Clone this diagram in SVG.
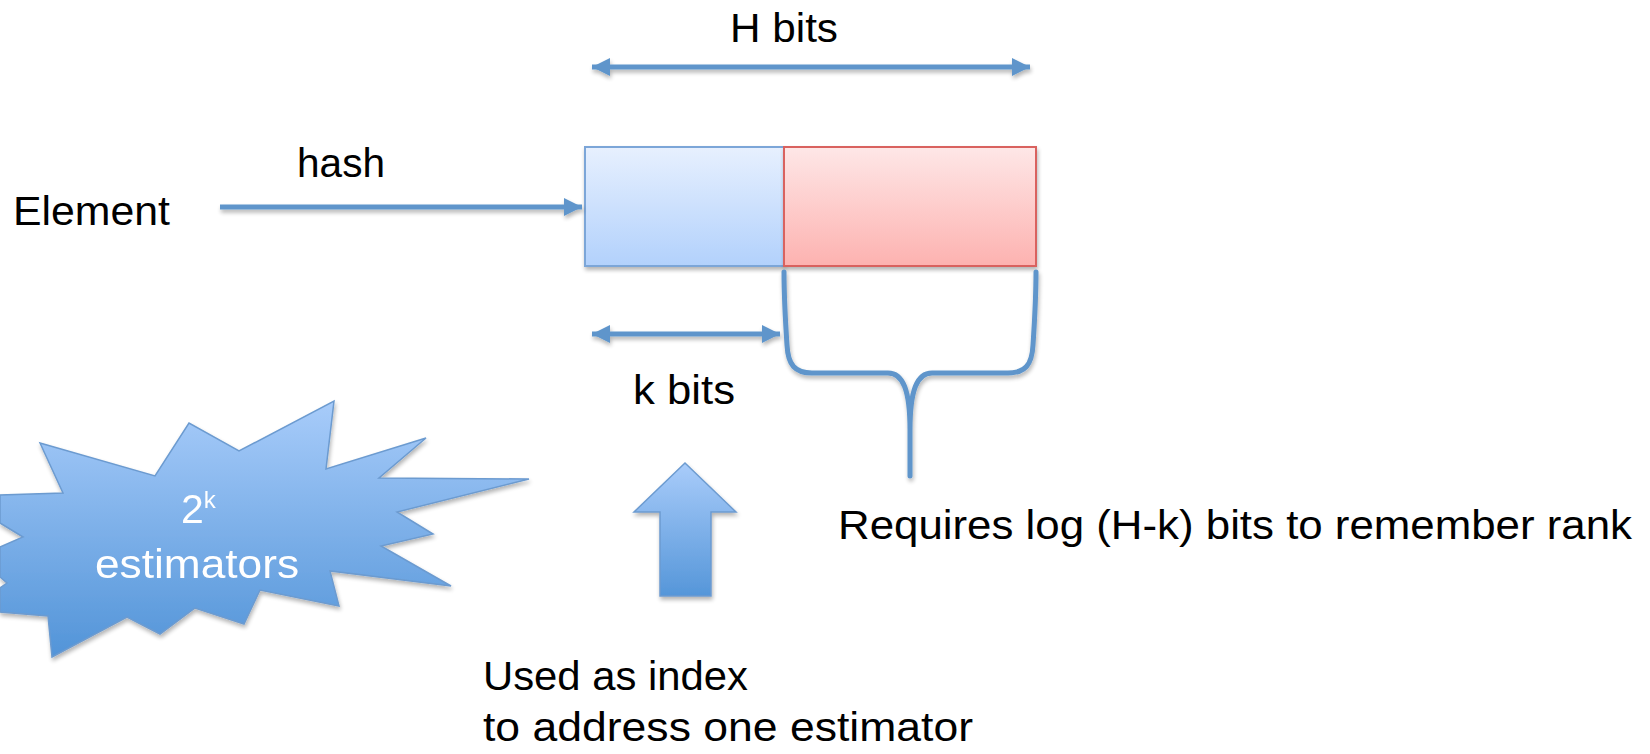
<svg xmlns="http://www.w3.org/2000/svg" width="1650" height="754" viewBox="0 0 1650 754">
<style>
.t{font-family:"Liberation Sans",Arial,sans-serif;font-size:41px;fill:#000}
.w{font-family:"Liberation Sans",Arial,sans-serif;font-size:41px;fill:#fff}
.ln{stroke:#5E95CB;stroke-width:5;fill:none}
.br{stroke:#5E95CB;stroke-width:5;fill:none;stroke-linecap:round}
</style>
<defs>
<linearGradient id="gBlue" x1="0" y1="0" x2="0" y2="1"><stop offset="0" stop-color="#E7F0FE"/><stop offset="1" stop-color="#B2D1FC"/></linearGradient>
<linearGradient id="gRed" x1="0" y1="0" x2="0" y2="1"><stop offset="0" stop-color="#FEE7E7"/><stop offset="1" stop-color="#FDB2B0"/></linearGradient>
<linearGradient id="gStar" x1="0" y1="0" x2="0" y2="1"><stop offset="0" stop-color="#A8CCFA"/><stop offset="1" stop-color="#5294D8"/></linearGradient>
<linearGradient id="gArrow" x1="0" y1="0" x2="0" y2="1"><stop offset="0" stop-color="#A9CCFA"/><stop offset="1" stop-color="#5596D9"/></linearGradient>
<marker id="ah" markerUnits="userSpaceOnUse" markerWidth="22" markerHeight="22" viewBox="0 0 22 22" refX="18" refY="11" orient="auto-start-reverse"><path d="M0,2 L18,11 L0,20 Z" fill="#5E95CB"/></marker>
<filter id="sh" x="-10%" y="-10%" width="130%" height="130%"><feGaussianBlur in="SourceAlpha" stdDeviation="2"/><feOffset dx="1" dy="3"/><feComponentTransfer><feFuncA type="linear" slope="0.3"/></feComponentTransfer><feMerge><feMergeNode/><feMergeNode in="SourceGraphic"/></feMerge></filter>
</defs>

<g id="star" filter="url(#sh)">
<polygon points="40,443 155,476 189,423 239,451 334,401 326,469 426,438 379,478 529,479 397,512 433,534 381,546 451,586 330,571 339,606 260,590 244,624 195,608 160,634 127,617 52,657 48,616 0,612 0,588 7,583 0,577 0,547 23,537 0,523 0,495 63,493" fill="url(#gStar)" stroke="#6C9BD0" stroke-width="1.5"/>
<text class="w" x="181" y="523">2<tspan font-size="24" dy="-15">k</tspan></text>
<text class="w" x="197" y="578" text-anchor="middle" textLength="204" lengthAdjust="spacingAndGlyphs">estimators</text>
</g>

<g id="blueBlock" filter="url(#sh)">
<rect x="585" y="147" width="199" height="119" fill="url(#gBlue)" stroke="#7BA6D8" stroke-width="2"/>
</g>
<g id="redBlock" filter="url(#sh)">
<rect x="784" y="147" width="252" height="119" fill="url(#gRed)" stroke="#D9625F" stroke-width="2"/>
</g>

<g id="upArrow" filter="url(#sh)">
<polygon points="685,463 736,512 711,512 711,596 660,596 660,512 634,512" fill="url(#gArrow)" stroke="#6C9BD0" stroke-width="1.5"/>
</g>

<g id="connectors" filter="url(#sh)">
<line class="ln" x1="592" y1="67" x2="1030" y2="67" marker-start="url(#ah)" marker-end="url(#ah)"/>
<line class="ln" x1="220" y1="207" x2="582" y2="207" marker-end="url(#ah)"/>
<line class="ln" x1="592" y1="334" x2="780" y2="334" marker-start="url(#ah)" marker-end="url(#ah)"/>
<path class="br" d="M784,272 C784,300 786,330 787,345 C788,365 795,373 812,373 L888,373 C903,373 910,390 910,430 L910,476 M910,430 C910,390 917,373 932,373 L1008,373 C1025,373 1032,365 1033,345 C1034,330 1036,300 1036,272"/>
</g>

<g id="labels">
<text class="t" x="784" y="42" text-anchor="middle" textLength="108" lengthAdjust="spacingAndGlyphs">H bits</text>
<text class="t" x="297" y="177" textLength="88" lengthAdjust="spacingAndGlyphs">hash</text>
<text class="t" x="13" y="225" textLength="157" lengthAdjust="spacingAndGlyphs">Element</text>
<text class="t" x="633" y="404" textLength="102" lengthAdjust="spacingAndGlyphs">k bits</text>
<text class="t" x="838" y="539" textLength="794" lengthAdjust="spacingAndGlyphs">Requires log (H-k) bits to remember rank</text>
<text class="t" x="483" y="690" textLength="265" lengthAdjust="spacingAndGlyphs">Used as index</text>
<text class="t" x="483" y="741" textLength="490" lengthAdjust="spacingAndGlyphs">to address one estimator</text>
</g>
</svg>
